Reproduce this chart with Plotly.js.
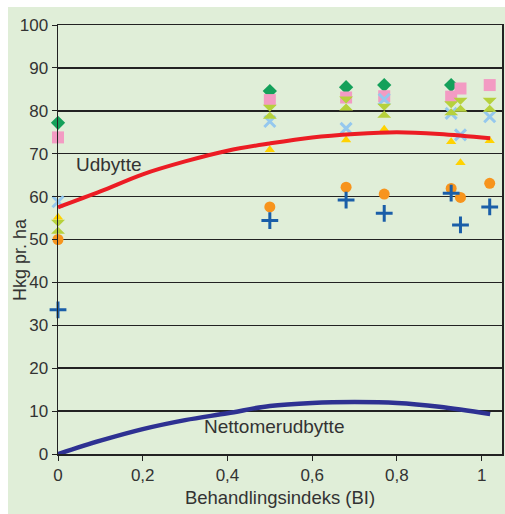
<!DOCTYPE html>
<html>
<head>
<meta charset="utf-8">
<script src="https://cdn.plot.ly/plotly-3.0.1.min.js"></script>
<style>html,body{margin:0;padding:0;background:#fff;}#chart{width:505px;height:514px;}</style>
</head>
<body>
<div id="chart"></div>
<script>
// Observed points (x = Behandlingsindeks, y = Hkg pr. ha)
var xDiamond = [0, 0.5, 0.68, 0.77, 0.928];
var yDiamond = [77.2, 84.6, 85.5, 86.0, 86.0];
var xPts = [0, 0.5, 0.68, 0.77, 0.928, 0.95, 1.019];
var ySquare = [73.8, 82.5, 83.1, 83.4, 83.3, 85.2, 86.0];
var yLightX = [58.8, 77.5, 75.9, 82.7, 79.4, 74.4, 78.6];
var yHourglass = [53.0, 79.8, 81.7, 80.0, 80.6, 81.4, 81.4];
var yTriangle = [55.2, 70.9, 73.2, 75.7, 72.8, 67.9, 73.0];
var yCircle = [50.0, 57.6, 62.2, 60.6, 61.9, 59.8, 63.1];
var yPlus = [33.6, 54.4, 59.2, 56.1, 60.8, 53.4, 57.6];

// Curves
var xCurve = [0, 0.1, 0.2, 0.3, 0.4, 0.5, 0.6, 0.7, 0.8, 0.9, 1.02];
var yUdbytte = [57.5, 61.2, 65.2, 68.2, 70.7, 72.4, 73.8, 74.6, 75.0, 74.6, 73.6];
var yNetto = [0, 3.1, 5.8, 7.9, 9.5, 11.2, 11.9, 12.1, 11.9, 11.0, 9.3];

var xTickVals = [0, 0.2, 0.4, 0.6, 0.8, 1];
var xTickText = ['0', '0,2', '0,4', '0,6', '0,8', '1'];
var yTickVals = [0, 10, 20, 30, 40, 50, 60, 70, 80, 90, 100];

var bg = '#e0eed8';
function mk(x, y, symbol, color, size, extra) {
  var m = {symbol: symbol, color: color, size: size, line: {width: 0}};
  if (extra) for (var k in extra) m[k] = extra[k];
  return {x: x, y: y, type: 'scatter', mode: 'markers', marker: m, cliponaxis: false, hoverinfo: 'skip'};
}
var traces = [
  mk(xDiamond, yDiamond, 'diamond', '#14a05a', 11),
  mk(xPts, ySquare, 'square', '#f39bc3', 12),
  mk(xPts, yLightX, 'x-thin-open', '#95c8ee', 11, {line: {width: 3, color: '#95c8ee'}}),
  mk(xPts, yHourglass, 'hourglass', '#b6d13c', 14),
  mk(xPts, yTriangle, 'triangle-up', '#ffd200', 9),
  mk(xPts, yCircle, 'circle', '#f7941d', 11),
  mk(xPts, yPlus, 'cross-thin-open', '#1a5ea8', 12, {line: {width: 3, color: '#1a5ea8'}}),
  {x: xCurve, y: yUdbytte, type: 'scatter', mode: 'lines', line: {color: '#ec1c24', width: 4, shape: 'spline'}, cliponaxis: false, hoverinfo: 'skip'},
  {x: xCurve, y: yNetto, type: 'scatter', mode: 'lines', line: {color: '#2e3192', width: 4.5, shape: 'spline'}, cliponaxis: false, hoverinfo: 'skip'}
];

var fam = 'Liberation Sans, Arial, sans-serif';
var tickFont = {family: fam, size: 17, color: '#333'};
var layout = {
  width: 505, height: 514,
  margin: {l: 58, r: 3, t: 25, b: 60, pad: 0},
  paper_bgcolor: '#ffffff',
  plot_bgcolor: bg,
  showlegend: false,
  shapes: [{type: 'rect', xref: 'paper', yref: 'paper', layer: 'below',
    x0: -50/444, x1: 1.01, y0: -0.2, y1: 1 + 18/429, fillcolor: bg, line: {width: 0}}],
  xaxis: {range: [0, 1.048], tickvals: xTickVals, ticktext: xTickText, showgrid: false, zeroline: false,
    showline: true, linecolor: '#222', linewidth: 1.5, mirror: true,
    ticks: 'outside', ticklen: 5, tickcolor: '#222', tickfont: tickFont,
    title: {text: 'Behandlingsindeks (BI)', font: {family: fam, size: 18.5, color: '#333'}, standoff: 7}},
  yaxis: {range: [0, 100], tickvals: yTickVals, showgrid: true, gridcolor: '#222', gridwidth: 1.5, zeroline: false,
    showline: true, linecolor: '#222', linewidth: 1.5, mirror: true,
    ticks: 'outside', ticklen: 5, tickcolor: '#222', tickfont: tickFont},
  annotations: [
    {text: 'Hkg pr. ha', xref: 'paper', yref: 'paper', x: -38/444, y: 0.452, xanchor: 'center', yanchor: 'middle',
      textangle: -90, showarrow: false, font: {family: fam, size: 18, color: '#333'}},
    {text: 'Udbytte', xref: 'x', yref: 'y', x: 0.12, y: 67.4, xanchor: 'center', yanchor: 'middle', showarrow: false,
      font: {family: fam, size: 19, color: '#333'}},
    {text: 'Nettomerudbytte', xref: 'x', yref: 'y', x: 0.51, y: 6.4, xanchor: 'center', yanchor: 'middle', showarrow: false,
      font: {family: fam, size: 19, color: '#333'}}
  ]
};
Plotly.newPlot('chart', traces, layout, {displayModeBar: false, staticPlot: true});
</script>
</body>
</html>
